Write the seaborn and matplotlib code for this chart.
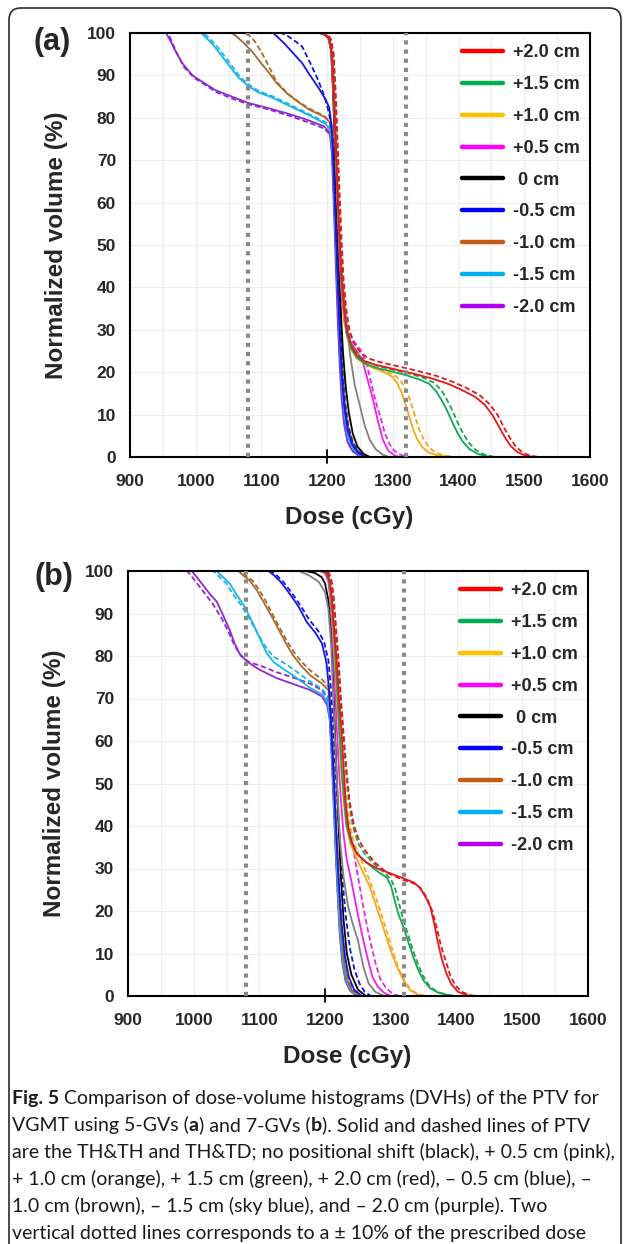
import matplotlib
matplotlib.use("Agg")
import matplotlib.pyplot as plt
import seaborn as sns
import pandas as pd
from matplotlib.lines import Line2D
from matplotlib.patches import FancyBboxPatch
from matplotlib.ticker import MultipleLocator

# ---------------- data: (dose cGy, normalized volume %) ----------------
SHIFTS = ["+2.0 cm", "+1.5 cm", "+1.0 cm", "+0.5 cm", " 0 cm", "-0.5 cm", "-1.0 cm", "-1.5 cm", "-2.0 cm"]
LINE_COLORS = ["#e8161b", "#14a650", "#f5a81c", "#f020f0", "#000000", "#1414e6", "#a8692e", "#18b4ec", "#9028d0"]
DASH_COLORS = ["#e8161b", "#14a650", "#f5a81c", "#f020f0", "#808080", "#1414e6", "#a8692e", "#18b4ec", "#9028d0"]
DASH_STYLES = ["dash", "dash", "dash", "dash", "solid", "dash", "dash", "dash", "dash"]
LEGEND_COLORS = ["#ff0000", "#00b050", "#ffc000", "#ff00ff", "#000000", "#0000ff", "#c55a11", "#00b0f0", "#b000f0"]
DOSE_LIMITS = [1080, 1320]  # +/-10 % of prescribed dose

# ---- (a) 5-GVs ----
A_P20 = [(900,100),(1190,100),(1198,99.6),(1203,98.5),(1207,95),(1210,86),(1213,74),(1216,62),(1219,51),(1222,42),(1226,35),(1230,30),(1236,26.5),(1245,24),(1258,22.5),(1275,21.7),(1300,20.8),(1330,19.7),(1360,18.5),(1385,17.2),(1405,15.8),(1425,14.2),(1440,12.3),(1452,9.8),(1462,7),(1471,4.5),(1480,2.5),(1490,1.1),(1502,0.3),(1515,0),(1600,0)]
A_P20D = [(900,100),(1193,100),(1201,99.6),(1206,98.5),(1210,95),(1213,86),(1216,74),(1219,62),(1222,51),(1225,42),(1229,35),(1234,30),(1240,27),(1250,24.8),(1262,23.3),(1280,22.4),(1305,21.5),(1335,20.4),(1365,19.2),(1390,17.8),(1412,16.3),(1432,14.6),(1447,12.5),(1459,10),(1469,7),(1478,4.5),(1487,2.5),(1497,1.1),(1509,0.3),(1522,0),(1600,0)]
A_P15 = [(900,100),(1190,100),(1198,99.6),(1203,98.5),(1207,95),(1210,86),(1213,74),(1216,61),(1219,50),(1222,41),(1226,34),(1230,29),(1236,25.8),(1245,23.5),(1258,22),(1275,21),(1295,20.3),(1320,19.3),(1340,18.3),(1355,17.3),(1366,15.5),(1375,13.2),(1383,10.8),(1391,8),(1399,5.5),(1407,3.5),(1417,1.8),(1430,0.7),(1445,0.1),(1458,0),(1600,0)]
A_P15D = [(900,100),(1192,100),(1200,99.6),(1205,98.5),(1209,95),(1212,86),(1215,74),(1218,61),(1221,50),(1224,41),(1228,34),(1232,29.5),(1238,26.3),(1248,24),(1260,22.5),(1278,21.4),(1300,20.6),(1325,19.7),(1348,18.6),(1363,17.5),(1374,15.7),(1383,13.3),(1391,10.8),(1399,8),(1407,5.5),(1415,3.5),(1425,1.8),(1437,0.7),(1452,0.1),(1465,0),(1600,0)]
A_P10 = [(900,100),(1190,100),(1198,99.6),(1203,98.5),(1207,95),(1210,86),(1213,73),(1216,60),(1219,49),(1222,40),(1226,33),(1230,28.5),(1236,25.5),(1245,23.3),(1258,21.8),(1275,20.7),(1290,19.8),(1300,18.8),(1307,17.3),(1313,15.3),(1319,12.5),(1325,9.5),(1331,6.5),(1337,4.2),(1345,2.3),(1355,1),(1370,0.3),(1390,0),(1600,0)]
A_P10D = [(900,100),(1192,100),(1200,99.6),(1205,98.5),(1209,95),(1212,86),(1215,73),(1218,60),(1221,49),(1224,40),(1228,33),(1232,28.8),(1238,25.8),(1247,23.6),(1260,22),(1277,20.8),(1293,20),(1305,19),(1314,17.5),(1322,15.3),(1328,12.5),(1334,9.5),(1340,6.5),(1347,4.2),(1355,2.3),(1365,1),(1380,0.3),(1398,0),(1600,0)]
A_P05 = [(900,100),(1190,100),(1198,99.6),(1203,98.5),(1207,95),(1210,85),(1213,72),(1216,58),(1219,46),(1222,38),(1226,32),(1231,28.5),(1238,26.5),(1246,24.8),(1254,22.5),(1262,18),(1270,13.4),(1278,8),(1285,4),(1293,1.5),(1303,0.3),(1312,0),(1600,0)]
A_P05D = [(900,100),(1192,100),(1200,99.6),(1205,98.5),(1209,95),(1212,85),(1215,72),(1218,58),(1221,46),(1224,38),(1228,32),(1234,29),(1242,27),(1252,25),(1260,22),(1267,17.5),(1274,13),(1281,9.5),(1288,5.5),(1295,3),(1302,1.5),(1311,0.6),(1320,0),(1600,0)]
A_00 = [(900,100),(1188,100),(1196,99.6),(1202,98.8),(1206,96),(1209,86),(1212,72),(1215,58),(1218,45),(1221,34),(1224,25),(1228,17),(1233,10.5),(1239,5.5),(1246,2.5),(1255,0.8),(1265,0),(1600,0)]
A_00D = [(900,100),(1190,100),(1198,99.6),(1204,98.5),(1208,95),(1211,85),(1214,71),(1217,58),(1220,48),(1224,40),(1229,32),(1235,24),(1242,17),(1250,12),(1257,7.5),(1265,4),(1274,1.8),(1285,0.5),(1295,0),(1600,0)]
A_M05 = [(900,100),(1118,100),(1125,99),(1135,97.5),(1148,95.3),(1162,92.9),(1174,90),(1188,86.8),(1197,84.5),(1203,82.5),(1207,78),(1210,68),(1213,55),(1216,42),(1219,30),(1222,20),(1226,12),(1231,6.5),(1238,3),(1247,1),(1258,0),(1600,0)]
A_M05D = [(900,100),(1130,100),(1140,99.3),(1152,98),(1162,96.8),(1174,93),(1186,89),(1196,85),(1203,81),(1208,76),(1211,66),(1214,53),(1217,40),(1220,29),(1223,20),(1227,12.5),(1232,7),(1239,3.2),(1248,1.1),(1260,0),(1600,0)]
A_M10 = [(900,100),(1055,100),(1062,99.2),(1072,97.8),(1086,95.6),(1100,92.8),(1112,90.5),(1123,88.2),(1140,85.6),(1158,83.5),(1174,81.8),(1195,80.3),(1204,79),(1208,75),(1211,65),(1214,52),(1217,40),(1220,29),(1223,20),(1227,12.5),(1232,7),(1239,3.2),(1249,1),(1260,0),(1600,0)]
A_M10D = [(900,100),(1075,100),(1082,99.3),(1090,98),(1100,95.5),(1110,92.5),(1123,88.5),(1140,85.7),(1158,83.6),(1175,82),(1195,80.5),(1204,79.2),(1209,75),(1212,65),(1215,52),(1218,40),(1221,29),(1224,20),(1228,12.5),(1233,7),(1240,3.2),(1250,1),(1262,0),(1600,0)]
A_M15 = [(900,100),(1008,100),(1015,99),(1025,97.5),(1035,95.5),(1050,92.5),(1065,89.5),(1080,87.5),(1095,86),(1113,85),(1140,83),(1174,80.5),(1198,78.5),(1205,77),(1208,72),(1211,60),(1214,47),(1217,35),(1220,24),(1223,15.5),(1227,9),(1232,4.5),(1240,1.8),(1250,0.4),(1260,0),(1600,0)]
A_M15D = [(900,100),(1012,100),(1019,99),(1029,97.5),(1039,95.5),(1054,92.5),(1068,89.5),(1082,87.7),(1097,86.2),(1115,85.2),(1142,83.2),(1175,80.7),(1199,78.8),(1206,77),(1209,72),(1212,60),(1215,47),(1218,35),(1221,24),(1224,15.5),(1228,9),(1233,4.5),(1241,1.8),(1251,0.4),(1262,0),(1600,0)]
A_M20 = [(900,100),(955,100),(962,98),(970,95.5),(980,92.8),(995,90),(1010,88.5),(1030,86.5),(1055,85),(1080,83.5),(1110,82.3),(1140,81),(1170,79.5),(1195,78),(1204,76.5),(1207,72),(1210,60),(1213,46),(1216,33),(1219,22),(1222,13.5),(1226,7.5),(1231,3.5),(1239,1.3),(1248,0.3),(1256,0),(1600,0)]
A_M20D = [(900,100),(958,100),(965,97.5),(972,95),(982,92),(997,89.5),(1012,88),(1032,86),(1056,84.5),(1080,83.2),(1110,82),(1140,80.6),(1170,79),(1195,77.5),(1205,76),(1208,71),(1211,59),(1214,45),(1217,32),(1220,21.5),(1223,13.5),(1227,7.5),(1232,3.5),(1240,1.3),(1249,0.3),(1258,0),(1600,0)]

# ---- (b) 7-GVs ----
B_P20 = [(900,100),(1195,100),(1203,99.5),(1207,97.5),(1210,94),(1214,86),(1218,78),(1221,70),(1225,62),(1228,54),(1231,46),(1235,40),(1240,36.5),(1248,33.5),(1262,31.5),(1278,30.1),(1300,28.8),(1319,27.7),(1335,26.7),(1344,25.5),(1352,23.5),(1360,21),(1366,17),(1371,13),(1377,9),(1384,5.5),(1392,2.8),(1402,1),(1415,0.2),(1425,0),(1600,0)]
B_P20D = [(900,100),(1198,100),(1206,99.5),(1210,97.5),(1213,94),(1217,86),(1221,78),(1224,70),(1228,62),(1232,54),(1237,46),(1244,40),(1252,36.5),(1262,34),(1275,31.5),(1294,29),(1319,27.3),(1335,26.5),(1346,25.3),(1355,23),(1363,20),(1370,16),(1376,12),(1383,8.5),(1390,5),(1398,2.5),(1408,1),(1420,0.2),(1432,0),(1600,0)]
B_P15 = [(900,100),(1195,100),(1202,99.5),(1206,97.5),(1209,94),(1213,86),(1216,78),(1219,70),(1222,62),(1225,54),(1229,46),(1233,40),(1240,36),(1248,33.6),(1262,31.5),(1280,29.3),(1294,27.8),(1300,26),(1305,23),(1311,19.5),(1319,16.3),(1327,12.5),(1334,9.2),(1342,6),(1350,3.6),(1360,1.8),(1372,0.8),(1390,0.1),(1400,0),(1600,0)]
B_P15D = [(900,100),(1197,100),(1205,99.5),(1209,97.5),(1212,94),(1216,86),(1220,78),(1223,70),(1227,62),(1231,54),(1236,46),(1242,40),(1250,36),(1260,33.5),(1275,31),(1290,29),(1300,27.5),(1306,25.5),(1312,22),(1318,18.5),(1325,15),(1333,11),(1340,8),(1348,5),(1358,2.5),(1370,1),(1385,0.3),(1400,0),(1600,0)]
B_P10 = [(900,100),(1195,100),(1202,99.5),(1206,97.5),(1209,93),(1212,86),(1215,78),(1218,70),(1221,62),(1224,54),(1228,46),(1232,40),(1238,36),(1246,33),(1258,29),(1268,25.7),(1278,21),(1288,16.3),(1298,11.5),(1309,6.9),(1320,3.5),(1329,1.4),(1340,0.4),(1350,0),(1600,0)]
B_P10D = [(900,100),(1197,100),(1205,99.5),(1209,97.5),(1212,93),(1215,86),(1218,78),(1221,70),(1225,62),(1228,54),(1233,46),(1238,40),(1244,36),(1252,33),(1263,29),(1273,25),(1283,20.5),(1293,15.5),(1303,10.5),(1313,6),(1323,3),(1333,1.2),(1345,0.3),(1355,0),(1600,0)]
B_P05 = [(900,100),(1192,100),(1200,99.5),(1205,97.5),(1208,93),(1211,86),(1214,76),(1217,66),(1220,56),(1224,46),(1228,38),(1233,32),(1240,27),(1250,19),(1258,13.2),(1266,8),(1272,4.5),(1280,2.2),(1290,0.7),(1300,0),(1600,0)]
B_P05D = [(900,100),(1195,100),(1203,99.5),(1207,97.5),(1210,93),(1213,86),(1216,76),(1220,66),(1224,56),(1229,46),(1235,40),(1243,34.4),(1250,28),(1258,21),(1265,15.5),(1270,12),(1277,7.5),(1284,4),(1292,2),(1302,0.6),(1312,0),(1600,0)]
B_00 = [(900,100),(1170,100),(1185,99.5),(1195,98.5),(1200,97),(1205,93),(1209,86),(1212,76),(1215,62),(1218,50),(1221,38),(1224,28),(1228,18),(1233,10),(1240,5),(1250,1.5),(1262,0),(1600,0)]
B_00D = [(900,100),(1160,100),(1175,99),(1190,97.5),(1200,95),(1205,91),(1209,83),(1212,72),(1215,60),(1219,47),(1223,36),(1228,28),(1235,21),(1242,17),(1250,13),(1258,7),(1266,3),(1276,1),(1290,0),(1600,0)]
B_M05 = [(900,100),(1114,100),(1122,99),(1132,97.5),(1142,95.5),(1150,93.8),(1160,91.5),(1172,88),(1185,85.5),(1195,83),(1202,78.5),(1206,72),(1209,64),(1212,55),(1215,45),(1218,35),(1221,26),(1225,17),(1230,9.5),(1236,4.5),(1244,1.5),(1256,0),(1600,0)]
B_M05D = [(900,100),(1118,100),(1126,99),(1136,97.5),(1146,95.5),(1154,93.8),(1164,91.5),(1176,88.5),(1189,86),(1198,83.5),(1205,79),(1209,72),(1212,64),(1215,55),(1219,45),(1223,35),(1227,26),(1232,18),(1238,11),(1245,6),(1252,3),(1260,1),(1270,0),(1600,0)]
B_M10 = [(900,100),(1068,100),(1075,99),(1085,97.8),(1096,95.5),(1106,92.8),(1118,89.5),(1131,85.7),(1142,82.5),(1151,80.2),(1163,77.8),(1177,75.5),(1195,73.5),(1205,72),(1209,66),(1212,57),(1215,46),(1218,35),(1221,25),(1224,16),(1228,9),(1233,4),(1241,1.2),(1252,0),(1600,0)]
B_M10D = [(900,100),(1072,100),(1079,99),(1089,97.8),(1100,95.5),(1110,92.8),(1121,89.5),(1133,86),(1144,83),(1153,80.8),(1165,78.5),(1178,76.5),(1195,74.5),(1205,72.8),(1209,67),(1212,58),(1215,47),(1218,36),(1221,26),(1225,17),(1229,10),(1234,4.5),(1242,1.4),(1254,0),(1600,0)]
B_M15 = [(900,100),(1035,100),(1045,98.5),(1055,97),(1065,94.5),(1076,92),(1086,89),(1096,85.7),(1104,83),(1111,80.7),(1122,78.5),(1136,77),(1155,75),(1177,72.5),(1195,71),(1204,69),(1208,64),(1211,55),(1214,44),(1217,33),(1220,23),(1223,14.5),(1227,8),(1232,3.5),(1240,1),(1250,0),(1600,0)]
B_M15D = [(900,100),(1030,100),(1040,98.5),(1050,97),(1060,94.5),(1072,92),(1084,89),(1095,86),(1104,83.5),(1112,81.5),(1122,79.8),(1136,78.5),(1155,76.5),(1177,74),(1195,72.3),(1204,70.5),(1208,65),(1211,56),(1214,45),(1217,34),(1220,24),(1223,15),(1227,8.5),(1233,3.8),(1241,1.1),(1252,0),(1600,0)]
B_M20 = [(900,100),(997,100),(1005,98.5),(1015,96.5),(1025,94.5),(1035,92.8),(1045,89.5),(1055,86),(1062,83),(1070,80.5),(1081,78.7),(1100,76.8),(1126,74.8),(1150,73.5),(1177,72),(1195,70.5),(1203,68.5),(1207,65),(1210,56),(1213,45),(1216,34),(1219,24),(1222,15),(1226,8),(1231,3.5),(1238,1.2),(1248,0),(1600,0)]
B_M20D = [(900,100),(990,100),(998,98.5),(1008,96.5),(1018,94.5),(1030,92),(1042,89),(1052,86),(1062,82.5),(1072,80),(1085,78.5),(1100,77.8),(1126,76.2),(1150,75),(1177,73.5),(1195,72),(1203,70),(1207,66),(1210,57),(1213,46),(1216,35),(1219,25),(1222,16),(1226,9),(1231,4),(1238,1.4),(1248,0),(1600,0)]

PANELS = [
    ("(a)", [A_P20, A_P15, A_P10, A_P05, A_00, A_M05, A_M10, A_M15, A_M20],
            [A_P20D, A_P15D, A_P10D, A_P05D, A_00D, A_M05D, A_M10D, A_M15D, A_M20D]),
    ("(b)", [B_P20, B_P15, B_P10, B_P05, B_00, B_M05, B_M10, B_M15, B_M20],
            [B_P20D, B_P15D, B_P10D, B_P05D, B_00D, B_M05D, B_M10D, B_M15D, B_M20D]),
]

CAPTION = [
    [("Fig. 5", "bold"), (" ", None), ("Comparison of dose-volume histograms (DVHs) of the PTV for", "normal")],
    [("VGMT using 5-GVs (", "normal"), ("a", "bold"), (") and 7-GVs (", "normal"), ("b", "bold"), ("). Solid and dashed lines of PTV", "normal")],
    [("are the TH&TH and TH&TD; no positional shift (black), + 0.5 cm (pink),", "normal")],
    [("+ 1.0 cm (orange), + 1.5 cm (green), + 2.0 cm (red), \u2013 0.5 cm (blue), \u2013", "normal")],
    [("1.0 cm (brown), \u2013 1.5 cm (sky blue), and \u2013 2.0 cm (purple). Two", "normal")],
    [("vertical dotted lines corresponds to a \u00b1 10% of the prescribed dose", "normal")],
]

# ---------------- plotting ----------------
W, H = 627, 1244
sns.set_theme(style="white")
plt.rcParams["font.family"] = ["Liberation Sans", "DejaVu Sans"]

fig = plt.figure(figsize=(W / 100, H / 100), dpi=100)

# rounded outer frame
fig.patches.append(FancyBboxPatch((0.09, -0.3), 6.12, 12.36 + 0.3, boxstyle="round,pad=0,rounding_size=0.12",
                                  transform=fig.dpi_scale_trans, fc="none", ec="#2b2b2b", lw=1.2))

# axes boxes in pixels: left, top, right, bottom
boxes = [(130, 33, 590, 457), (128, 571, 588, 996)]
letter_pos = [(52, 42), (54, 577)]

for (tag, solids, dashes), (l, t, r, b), (lx, ly) in zip(PANELS, boxes, letter_pos):
    ax = fig.add_axes([l / W, 1 - b / H, (r - l) / W, (b - t) / H])

    # draw negative shifts first so positive shifts end on top
    for i in reversed(range(len(SHIFTS))):
        sol = pd.DataFrame(solids[i], columns=["dose", "volume"])
        das = pd.DataFrame(dashes[i], columns=["dose", "volume"])
        sns.lineplot(data=sol, x="dose", y="volume", ax=ax, color=LINE_COLORS[i], lw=1.3,
                     sort=False, estimator=None, legend=False, zorder=2)
        ls = (0, (3, 1.6)) if DASH_STYLES[i] == "dash" else "-"
        sns.lineplot(data=das, x="dose", y="volume", ax=ax, color=DASH_COLORS[i], lw=1.3,
                     linestyle=ls, sort=False, estimator=None, legend=False, zorder=2)

    for d in DOSE_LIMITS:
        ax.axvline(d, color="#8a8a8a", lw=3.0, linestyle=(0, (1, 1.2)), zorder=4)

    # small crossing mark at 1200 on the dose axis
    ax.plot([1200, 1200], [-0.015, 0.016], color="black", lw=1.3, transform=ax.get_xaxis_transform(),
            clip_on=False, zorder=5)

    ax.set_xlim(900, 1600)
    ax.set_ylim(0, 100)
    ax.xaxis.set_major_locator(MultipleLocator(100))
    ax.xaxis.set_minor_locator(MultipleLocator(50))
    ax.yaxis.set_major_locator(MultipleLocator(10))
    ax.grid(axis="x", which="both", color="#ededed", lw=0.8, zorder=0)
    ax.grid(axis="y", which="major", color="#ededed", lw=0.8, zorder=0)
    ax.tick_params(which="both", length=0)
    ax.tick_params(axis="y", pad=10, labelsize=12.5)
    ax.tick_params(axis="x", pad=12, labelsize=12.5)
    for lab in ax.get_xticklabels() + ax.get_yticklabels():
        lab.set_fontweight("bold")
    for sp in ax.spines.values():
        sp.set_visible(True)
        sp.set_color("black")
        sp.set_linewidth(1.5)

    ax.set_xlabel("Dose (cGy)", fontsize=17.5, fontweight="bold")
    ax.set_ylabel("Normalized volume (%)", fontsize=17.5, fontweight="bold")
    ax.xaxis.set_label_coords(0.476, -0.115)
    ax.yaxis.set_label_coords(-0.135, 0.5)

    handles = [Line2D([], [], color=c, lw=3.2) for c in LEGEND_COLORS]
    ax.legend(handles, SHIFTS, loc="upper left", bbox_to_anchor=(0.705, 0.99), frameon=False,
              prop={"weight": "bold", "size": 13}, handlelength=2.3, handletextpad=0.55,
              labelspacing=0.82, borderaxespad=0)

    fig.text(lx / W, 1 - ly / H, tag, fontsize=22, fontweight="bold", ha="center", va="center")

# caption with mixed bold / regular runs
renderer = fig.canvas.get_renderer()
CAP_FONT = ["Lato", "DejaVu Sans"]
CAP_SIZE = 14.0
probe1 = fig.text(0, 0, "a a", fontsize=CAP_SIZE, family=CAP_FONT)
probe2 = fig.text(0, 0, "aa", fontsize=CAP_SIZE, family=CAP_FONT)
space_w = probe1.get_window_extent(renderer).width - probe2.get_window_extent(renderer).width
probe1.remove()
probe2.remove()

baselines = [1104, 1131, 1158, 1185, 1212, 1239]
for runs, yb in zip(CAPTION, baselines):
    x = 12
    for text, weight in runs:
        if weight is None:
            x += space_w
            continue
        tt = fig.text(x / W, 1 - yb / H, text, fontsize=CAP_SIZE, fontweight=weight, family=CAP_FONT,
                      va="baseline", ha="left", color="#1a1a1a")
        x = tt.get_window_extent(renderer).x1

fig.savefig("out.png", dpi=100)
